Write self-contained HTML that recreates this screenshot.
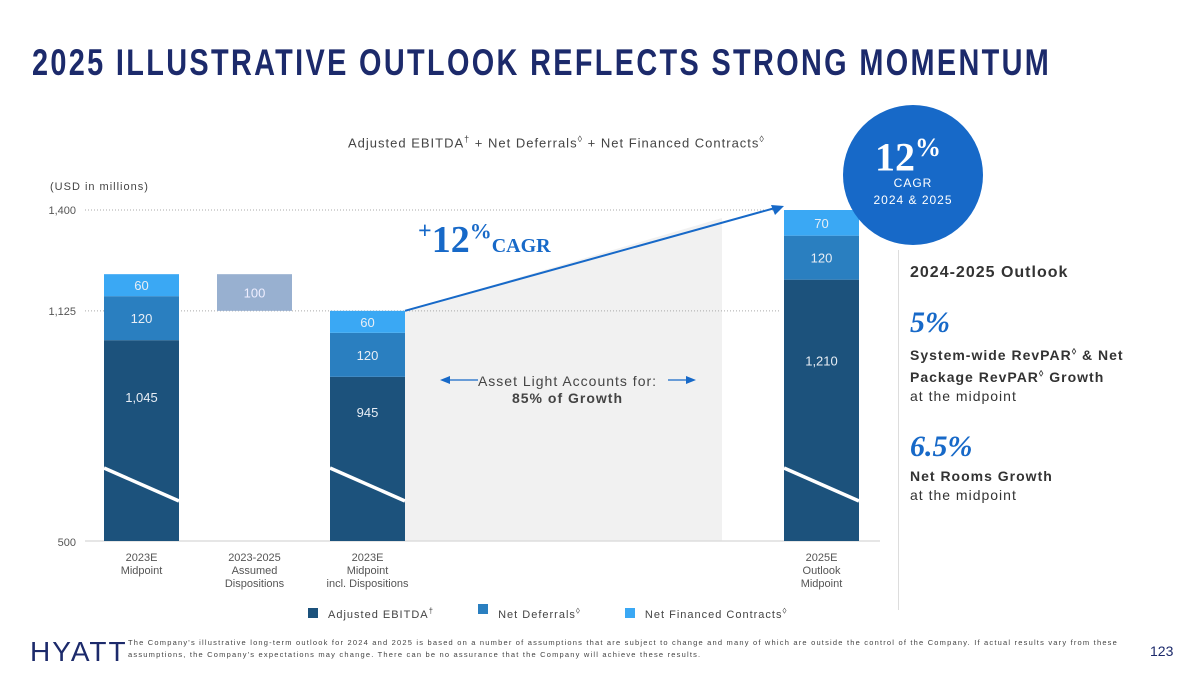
<!DOCTYPE html>
<html><head><meta charset="utf-8">
<style>
body{margin:0;width:1200px;height:675px;background:#fff;font-family:"Liberation Sans",sans-serif;overflow:hidden;position:relative}
.abs{position:absolute}
</style></head>
<body>
<div class="abs" style="left:32px;top:42px;font-size:37px;font-weight:bold;color:#1c2a6b;letter-spacing:3px;white-space:nowrap;transform:scaleX(0.78);transform-origin:left">2025 ILLUSTRATIVE OUTLOOK REFLECTS STRONG MOMENTUM</div>
<div class="abs" style="left:348px;top:134px;font-size:13px;color:#444;letter-spacing:1px;white-space:nowrap">Adjusted EBITDA<sup style="font-size:9px">†</sup> + Net Deferrals<sup style="font-size:9px">◊</sup> + Net Financed Contracts<sup style="font-size:9px">◊</sup></div>
<div class="abs" style="left:50px;top:181px;font-size:11px;color:#444;letter-spacing:1px">(USD in millions)</div>
<svg class="abs" style="left:0;top:0" width="1200" height="675" id="chart"></svg>
<div class="abs" style="left:843px;top:105px;width:140px;height:140px;border-radius:50%;background:#1769c8;color:#fff;text-align:center">
 <div style="font-family:'Liberation Serif',serif;font-size:40px;font-weight:bold;margin-top:28px;margin-left:-10px">12<sup style="font-size:26px">%</sup></div>
 <div style="font-size:12px;margin-top:-4px;letter-spacing:1px">CAGR</div>
 <div style="font-size:12px;margin-top:3px;letter-spacing:1px">2024 &amp; 2025</div>
</div>
<div class="abs" style="left:910px;top:264px;font-size:16px;font-weight:bold;color:#333;letter-spacing:1px">2024-2025 Outlook</div>
<div class="abs" style="left:910px;top:306px;font-family:'Liberation Serif',serif;font-size:30px;font-weight:bold;color:#1769c8;font-style:italic">5%</div>
<div class="abs" style="left:910px;top:342px;font-size:14px;color:#333;letter-spacing:1px;line-height:19px"><b>System-wide RevPAR<sup style="font-size:9px">◊</sup> &amp; Net<br>Package RevPAR<sup style="font-size:9px">◊</sup> Growth</b><br>at the midpoint</div>
<div class="abs" style="left:910px;top:430px;font-family:'Liberation Serif',serif;font-size:30px;font-weight:bold;color:#1769c8;font-style:italic">6.5%</div>
<div class="abs" style="left:910px;top:467px;font-size:14px;color:#333;letter-spacing:1px;line-height:19px"><b>Net Rooms Growth</b><br>at the midpoint</div>
<div class="abs" style="left:898px;top:250px;width:1px;height:360px;background:#ddd"></div>
<div class="abs" style="left:418px;top:218px;font-family:'Liberation Serif',serif;font-weight:bold;color:#1769c8;font-size:38px"><sup style="font-size:24px">+</sup>12<sup style="font-size:22px">%</sup><span style="font-size:20px">CAGR</span></div>
<div class="abs" style="left:440px;top:373px;width:255px;text-align:center;font-size:14px;color:#444;letter-spacing:1px;line-height:17px">Asset Light Accounts for:<br><b>85% of Growth</b></div>
<div class="abs" style="left:308px;top:604px;font-size:11px;color:#444;letter-spacing:1px">
 <span><span style="display:inline-block;width:10px;height:10px;background:#1c527c;margin-right:10px"></span>Adjusted EBITDA<sup style="font-size:8px">†</sup></span>
 <span style="margin-left:40px"><span style="display:inline-block;width:10px;height:10px;background:#2a7fc0;margin-right:10px;vertical-align:4px"></span>Net Deferrals<sup style="font-size:8px">◊</sup></span>
 <span style="margin-left:40px"><span style="display:inline-block;width:10px;height:10px;background:#3aa8f4;margin-right:10px"></span>Net Financed Contracts<sup style="font-size:8px">◊</sup></span>
</div>
<div class="abs" style="left:30px;top:636px;font-size:28px;color:#1c2a6b;letter-spacing:2px;font-family:'Liberation Sans',sans-serif">HYATT</div>
<div class="abs" style="left:128px;top:637px;width:1010px;font-size:7.5px;color:#444;letter-spacing:1.2px;line-height:12px">The Company's illustrative long-term outlook for 2024 and 2025 is based on a number of assumptions that are subject to change and many of which are outside the control of the Company. If actual results vary from these assumptions, the Company's expectations may change. There can be no assurance that the Company will achieve these results.</div>
<div class="abs" style="left:1150px;top:643px;font-size:14px;color:#1c2a6b">123</div>
<script>
const categories=["2023E|Midpoint","2023-2025|Assumed|Dispositions","2023E|Midpoint|incl. Dispositions","2025E|Outlook|Midpoint"];
const ebitda=[1045,0,945,1210];
const deferrals=[120,0,120,120];
const financed=[60,0,60,70];
const dispositions=[0,100,0,0];
const ticks=[500,1125,1400];
const tickLabels=["500","1,125","1,400"];
const ns="http://www.w3.org/2000/svg";
const svg=document.getElementById('chart');
const barX=[104,217,330,784],bw=75;
const ebitdaLabelDy=[62,0,40,86];
const y=v=>210+(1400-v)*0.3667;
function el(t,a){const e=document.createElementNS(ns,t);for(const k in a)e.setAttribute(k,a[k]);svg.appendChild(e);return e;}
const g=el('polygon',{points:`405,${y(ebitda[2]+deferrals[2]+financed[2])} 722,${y(ebitda[3]+deferrals[3]+financed[3])+8} 722,541 405,541`,fill:'#f1f1f1'});


ticks.forEach((t,i)=>{
 if(i>0){const l=el('line',{x1:85,x2:780,y1:y(t),y2:y(t),stroke:'#aaa','stroke-dasharray':'1,2'});
 
 }
 const tx=el('text',{x:76,y:(i==0?546:y(t)+4),'text-anchor':'end','font-size':11,fill:'#555'});tx.textContent=tickLabels[i];
 
 
});
const base=el('line',{x1:85,x2:880,y1:541,y2:541,stroke:'#ddd','stroke-width':1.5});


categories.forEach((c,i)=>{
 const x=barX[i];let cur=0;
 const segs=[[ebitda[i],'#1c527c','bar-ebitda'],[deferrals[i],'#2a7fc0','bar-deferrals'],[financed[i],'#3aa8f4','bar-financed']];
 if(dispositions[i]){const top=ebitda[0]+deferrals[0]+financed[0];
  const r=el('rect',{x,y:y(top),width:bw,height:y(top-dispositions[i])-y(top),fill:'#98b0d0'});
  
  
  const t=el('text',{x:x+bw/2,y:(y(top)+y(top-dispositions[i]))/2+5,'text-anchor':'middle','font-size':13,fill:'#eef'});t.textContent=dispositions[i];
  
  }
 segs.forEach(([v,col,nm],k)=>{if(!v)return;
  const h0=k==0?541:y(cur);const h1=y(cur+v);
  const r=el('rect',{x,y:h1,width:bw,height:h0-h1,fill:col});
  
  
  const t=el('text',{x:x+bw/2,y:k==0?h1+ebitdaLabelDy[i]:(h0+h1)/2+5,'text-anchor':'middle','font-size':13,fill:'#e8eef5'});
  t.textContent=v.toLocaleString('en-US');
  
  
  cur+=v;});
 if(ebitda[i]){const s=el('line',{x1:x,y1:468,x2:x+bw,y2:501,stroke:'#fff','stroke-width':3.5});
  
  }
 c.split('|').forEach((ln,j)=>{const t=el('text',{x:x+bw/2,y:561+j*13,'text-anchor':'middle','font-size':11,fill:'#555'});t.textContent=ln;
  
  });
});
const t2=ebitda[2]+deferrals[2]+financed[2],t3=ebitda[3]+deferrals[3]+financed[3];
const a=el('line',{x1:405,y1:y(t2),x2:775,y2:y(t3)-2,stroke:'#1769c8','stroke-width':2});


el('polygon',{points:`784,${y(t3)-4} 771,${y(t3)-5} 775,${y(t3)+5}`,fill:'#1769c8'});
[[478,440],[668,696]].forEach(([x1,x2],i)=>{const l=el('line',{x1:x1,y1:380,x2:i?x2-8:x2+8,y2:380,stroke:'#1769c8','stroke-width':1.3});
 
 
 el('polygon',{points:i?`696,380 686,376 686,384`:`440,380 450,376 450,384`,fill:'#1769c8'});});
</script>
</body></html>
